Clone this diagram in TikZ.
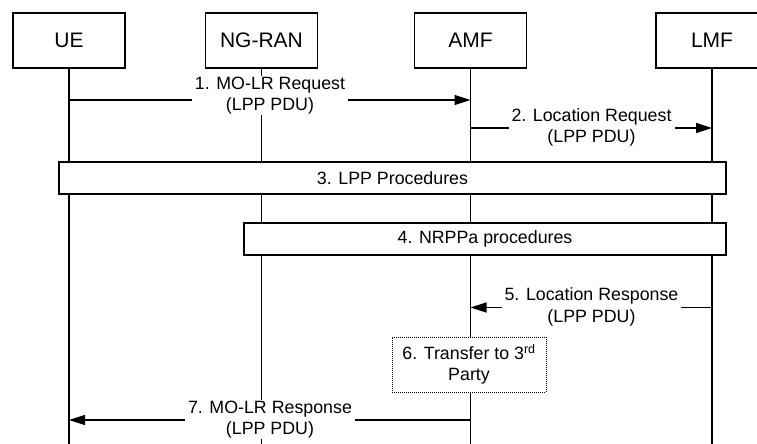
\documentclass[tikz,border=0pt]{standalone}
\usepackage{fontspec}
\setmainfont{Liberation Sans}
\usetikzlibrary{arrows.meta}
\begin{document}
\begin{tikzpicture}[x=1pt,y=-1pt,
  entity/.style={draw,line width=1.4pt,fill=white,minimum width=112pt,minimum height=55pt,inner sep=0pt,font=\fontsize{21}{24}\selectfont},
  life/.style={line width=1.6pt},
  msg/.style={line width=1.4pt,-{Triangle[length=16pt,width=10pt]}},
  lbl/.style={fill=white,inner xsep=3pt,inner ysep=0.5pt,align=center,font=\fontsize{17.8}{21.5}\selectfont},
  proc/.style={draw,line width=1.4pt,fill=white,inner sep=0pt,font=\fontsize{17.8}{20}\selectfont},
  dotbox/.style={draw,densely dotted,line width=1pt,fill=white,align=center,inner sep=0pt,font=\fontsize{17.8}{21}\selectfont}]
\useasboundingbox (0,0) rectangle (757,444);
\begin{scope}
\clip (0,0) rectangle (757,444);
% entities
\node[entity] (ue) at (69,40.5) {UE};
\node[entity] (ngran) at (261.5,40.5) {NG-RAN};
\node[entity] (amf) at (470.5,40.5) {AMF};
\node[entity] (lmf) at (712,40.5) {LMF};
\coordinate (bot) at (0,444);
% lifelines
\foreach \n in {ue,ngran,amf,lmf} \draw[life] (\n.south) -- (\n.south |- bot);
% message levels
\coordinate (y1) at (0,100);
\coordinate (y2) at (0,128);
\coordinate (y5) at (0,307.5);
\coordinate (y7) at (0,420);
% 1
\draw[msg] (ue.south |- y1) -- (amf.south |- y1);
\node[lbl] (l1) at (270,95.5) {1. MO-LR Request\\(LPP PDU)};
% 2
\draw[msg] (amf.south |- y2) -- (lmf.south |- y2);
\node[lbl] (l2) at (591.5,127.5) {2. Location Request\\(LPP PDU)};
% 3
\node[proc,minimum width=667pt,minimum height=32pt] (p3) at (392.5,178) {3. LPP Procedures};
% 4
\node[proc,minimum width=482pt,minimum height=32pt] (p4) at (485,239) {4. NRPPa procedures};
% 5
\draw[msg] (lmf.south |- y5) -- (amf.south |- y5);
\node[lbl] (l5) at (591.5,307) {5. Location Response\\(LPP PDU)};
% 6
\node[dotbox,minimum width=154pt,minimum height=55pt] (p6) at (469,364.5) {6. Transfer to 3\textsuperscript{rd}\\Party};
% 7
\draw[msg] (amf.south |- y7) -- (ue.south |- y7);
\node[lbl] (l7) at (270,419.5) {7. MO-LR Response\\(LPP PDU)};
\end{scope}
\end{tikzpicture}
\end{document}
